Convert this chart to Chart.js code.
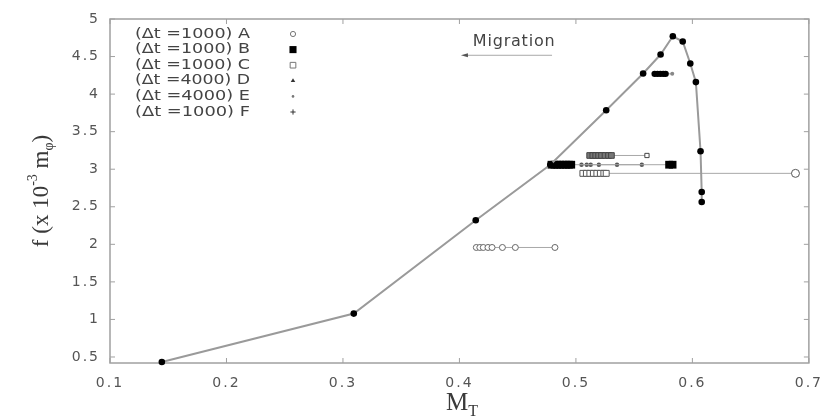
<!DOCTYPE html>
<html>
<head>
<meta charset="utf-8">
<script src="https://cdn.jsdelivr.net/npm/chart.js@4.4.1/dist/chart.umd.min.js"></script>
<style>
  html, body { margin: 0; padding: 0; background: #fff; }
  #wrap { width: 832px; height: 417px; position: relative; }
</style>
</head>
<body>
<div id="wrap"><canvas id="c" width="832" height="417"></canvas></div>
<script>
// Axis ticks
const xTicks = [0.1, 0.2, 0.3, 0.4, 0.5, 0.6, 0.7];
const yTicks = [0.5, 1, 1.5, 2, 2.5, 3, 3.5, 4, 4.5, 5];

// Main f(M_T) curve
const mainM = [0.1445, 0.3093, 0.4140, 0.4780, 0.5260, 0.5577, 0.5727, 0.5832, 0.5917, 0.5982, 0.6030, 0.6070, 0.6080, 0.6080];
const mainF = [0.433, 1.078, 2.320, 3.060, 3.785, 4.275, 4.527, 4.770, 4.700, 4.407, 4.160, 3.240, 2.697, 2.564];

// Migration tracks (M_T values at constant f)
const trackA_M = [0.4145, 0.4175, 0.4205, 0.4245, 0.4280, 0.4369, 0.4480, 0.4820];
const trackA_F = 1.958;
const trackB_M = [0.4790, 0.4815, 0.4840, 0.4865, 0.4890, 0.4915, 0.4940, 0.4960, 0.5800, 0.5830];
const trackB_F = 3.060;
const trackC_M = [0.5060, 0.5090, 0.5120, 0.5150, 0.5180, 0.5210, 0.5240, 0.5260, 0.6885];
const trackC_F = 2.945;
const trackD_M = [0.5048, 0.5093, 0.5127, 0.5197, 0.5353, 0.5566];
const trackD_F = 3.060;
const trackE_M = [0.5118, 0.5145, 0.5170, 0.5195, 0.5220, 0.5250, 0.5280, 0.5305, 0.5610];
const trackE_F = 3.183;
const trackF_M = [0.5676, 0.5700, 0.5725, 0.5750, 0.5770, 0.5827];
const trackF_F = 4.270;

const legendLabels = ['(\u0394t =1000) A', '(\u0394t =1000) B', '(\u0394t =1000) C',
                      '(\u0394t =4000) D', '(\u0394t =4000) E', '(\u0394t =1000) F'];

// "Migration" arrow
const migrationArrowM = [0.4795, 0.4013];
const migrationArrowF = 4.517;
const migrationLabelM = 0.4115;
const migrationLabelF = 4.69;

const pts = (ms, f) => ms.map(m => ({ x: m, y: f }));
const lastDiff = (n, a, b) => Array.from({ length: n }, (_, i) => (i === n - 1 ? b : a));

const trackLine = { showLine: true, borderColor: '#a8a8a8', borderWidth: 1, clip: false };

const datasets = [
  {
    label: 'main',
    data: mainM.map((m, i) => ({ x: m, y: mainF[i] })),
    showLine: true, borderColor: '#9a9a9a', borderWidth: 2,
    pointStyle: 'circle', pointRadius: 3.3, pointBackgroundColor: '#000',
    pointBorderColor: '#000', pointBorderWidth: 0, clip: false
  },
  Object.assign({
    label: legendLabels[0], data: pts(trackA_M, trackA_F),
    pointStyle: 'circle', pointRadius: 3, pointBackgroundColor: '#fff',
    pointBorderColor: '#666', pointBorderWidth: 1
  }, trackLine),
  Object.assign({
    label: legendLabels[1], data: pts(trackB_M, trackB_F),
    pointStyle: 'rect', pointRadius: 5.5, pointBackgroundColor: '#000',
    pointBorderColor: '#000', pointBorderWidth: 0
  }, trackLine),
  Object.assign({
    label: legendLabels[2], data: pts(trackC_M, trackC_F),
    pointStyle: lastDiff(trackC_M.length, 'rect', 'circle'),
    pointRadius: lastDiff(trackC_M.length, 4.2, 4),
    pointBackgroundColor: '#fff', pointBorderColor: '#555', pointBorderWidth: 1
  }, trackLine),
  Object.assign({
    label: legendLabels[3], data: pts(trackD_M, trackD_F),
    pointStyle: 'circle', pointRadius: 2.2, pointBackgroundColor: '#555',
    pointBorderColor: '#555', pointBorderWidth: 0
  }, trackLine),
  Object.assign({
    label: legendLabels[4], data: pts(trackE_M, trackE_F),
    pointStyle: 'rect',
    pointRadius: lastDiff(trackE_M.length, 4, 3),
    pointBackgroundColor: lastDiff(trackE_M.length, '#777', '#fff'),
    pointBorderColor: '#444', pointBorderWidth: 1
  }, trackLine),
  Object.assign({
    label: legendLabels[5], data: pts(trackF_M, trackF_F),
    pointStyle: 'circle',
    pointRadius: lastDiff(trackF_M.length, 3.2, 2),
    pointBackgroundColor: lastDiff(trackF_M.length, '#000', '#888'),
    pointBorderColor: lastDiff(trackF_M.length, '#000', '#888'), pointBorderWidth: 0
  }, trackLine)
];

// Legend marker look for each series
const legendMarkers = [
  { pointStyle: 'circle', radius: 2.6, fill: '#fff', stroke: '#777', borderWidth: 1 },
  { pointStyle: 'rect', radius: 5, fill: '#000', stroke: '#000', borderWidth: 0 },
  { pointStyle: 'rect', radius: 4, fill: '#fff', stroke: '#777', borderWidth: 1 },
  { pointStyle: 'triangle', radius: 2.6, fill: '#333', stroke: '#333', borderWidth: 0 },
  { pointStyle: 'circle', radius: 1.3, fill: '#777', stroke: '#777', borderWidth: 0 },
  { pointStyle: 'cross', radius: 2.6, fill: '#333', stroke: '#333', borderWidth: 1.2 }
];

const framePlugin = {
  id: 'frame',
  beforeDraw(chart) {
    chart.ctx.letterSpacing = '2px';
  },
  beforeDatasetsDraw(chart) {
    const { ctx, chartArea: a, scales } = chart;
    ctx.save();
    ctx.letterSpacing = '0px';
    ctx.strokeStyle = '#a0a0a0';
    ctx.lineWidth = 1.5;
    ctx.strokeRect(a.left, a.top, a.right - a.left, a.bottom - a.top);
    ctx.lineWidth = 1;
    const tl = 5;
    ctx.beginPath();
    xTicks.forEach(v => {
      const x = scales.x.getPixelForValue(v);
      ctx.moveTo(x, a.bottom); ctx.lineTo(x, a.bottom - tl);
      ctx.moveTo(x, a.top); ctx.lineTo(x, a.top + tl);
    });
    yTicks.forEach(v => {
      const y = scales.y.getPixelForValue(v);
      ctx.moveTo(a.left, y); ctx.lineTo(a.left + tl, y);
      ctx.moveTo(a.right, y); ctx.lineTo(a.right - tl, y);
    });
    ctx.stroke();
    ctx.restore();
  },
  afterDraw(chart) {
    const { ctx, chartArea: a, scales } = chart;
    ctx.save();
    ctx.letterSpacing = '0px';

    // Legend
    ctx.font = '14px "DejaVu Sans"';
    ctx.fillStyle = '#444';
    ctx.textBaseline = 'middle';
    ctx.textAlign = 'left';
    legendLabels.forEach((t, i) => {
      const y = a.top + 15 + i * 15.6;
      const w = ctx.measureText(t).width;
      ctx.save();
      ctx.translate(a.left + 25, y);
      ctx.scale(115 / w, 1);
      ctx.fillText(t, 0, 0);
      ctx.restore();
      const mk = legendMarkers[i];
      ctx.fillStyle = mk.fill;
      ctx.strokeStyle = mk.stroke;
      Chart.helpers.drawPoint(ctx, { pointStyle: mk.pointStyle, radius: mk.radius, borderWidth: mk.borderWidth, rotation: 0 }, a.left + 183, y);
      ctx.fillStyle = '#444';
    });

    // Migration arrow
    const ay = scales.y.getPixelForValue(migrationArrowF);
    const ax0 = scales.x.getPixelForValue(migrationArrowM[0]);
    const ax1 = scales.x.getPixelForValue(migrationArrowM[1]);
    ctx.strokeStyle = '#a8a8a8';
    ctx.lineWidth = 1;
    ctx.beginPath(); ctx.moveTo(ax0, ay); ctx.lineTo(ax1 + 4, ay); ctx.stroke();
    ctx.fillStyle = '#555';
    ctx.beginPath();
    ctx.moveTo(ax1, ay); ctx.lineTo(ax1 + 7, ay - 2); ctx.lineTo(ax1 + 7, ay + 2); ctx.closePath();
    ctx.fill();
    ctx.font = '16px "DejaVu Sans"';
    ctx.letterSpacing = '0.8px';
    ctx.fillStyle = '#444';
    ctx.fillText('Migration', scales.x.getPixelForValue(migrationLabelM), scales.y.getPixelForValue(migrationLabelF));
    ctx.letterSpacing = '0px';

    // Axis titles
    const drawRuns = (runs, x0, baseY) => {
      let x = x0;
      runs.forEach(r => {
        ctx.font = r.size + 'px "Liberation Serif"';
        ctx.fillText(r.t, x, baseY + r.dy);
        x += ctx.measureText(r.t).width;
      });
    };
    const runsWidth = runs => runs.reduce((s, r) => {
      ctx.font = r.size + 'px "Liberation Serif"';
      return s + ctx.measureText(r.t).width;
    }, 0);

    ctx.fillStyle = '#3a3a3a';
    ctx.textBaseline = 'alphabetic';
    const yRuns = [
      { t: 'f (x 10', size: 23, dy: 0 },
      { t: '-3', size: 14, dy: -11 },
      { t: ' m', size: 23, dy: 0 },
      { t: '\u03c6', size: 14, dy: 5 },
      { t: ')', size: 23, dy: 0 }
    ];
    const yw = runsWidth(yRuns);
    ctx.save();
    ctx.translate(48, (a.top + a.bottom) / 2 + 0);
    ctx.rotate(-Math.PI / 2);
    drawRuns(yRuns, -yw / 2, 0);
    ctx.restore();

    const xRuns = [
      { t: 'M', size: 25, dy: 0 },
      { t: 'T', size: 16, dy: 6 }
    ];
    drawRuns(xRuns, 446, 410);

    ctx.restore();
  }
};

new Chart(document.getElementById('c'), {
  type: 'scatter',
  data: { datasets },
  options: {
    responsive: false,
    animation: false,
    devicePixelRatio: 1,
    layout: { padding: { top: 19, right: 15, bottom: 0, left: 0 } },
    plugins: { legend: { display: false }, tooltip: { enabled: false } },
    scales: {
      x: {
        type: 'linear', min: 0.1, max: 0.7,
        afterBuildTicks(scale) { scale.ticks = xTicks.map(v => ({ value: v })); },
        afterFit(scale) { scale.height = 54; },
        grid: { display: false, drawTicks: false },
        border: { display: false },
        ticks: {
          padding: 12, color: '#555', maxRotation: 0, autoSkip: false,
          font: { family: '"DejaVu Sans"', size: 14 },
          callback: v => String(v)
        }
      },
      y: {
        type: 'linear', min: 0.42, max: 5,
        afterBuildTicks(scale) { scale.ticks = yTicks.map(v => ({ value: v })); },
        afterFit(scale) { scale.width = 110; },
        grid: { display: false, drawTicks: false },
        border: { display: false },
        ticks: {
          padding: 10, color: '#555', autoSkip: false,
          font: { family: '"DejaVu Sans"', size: 14 },
          callback: v => String(v)
        }
      }
    }
  },
  plugins: [framePlugin]
});
</script>
</body>
</html>
